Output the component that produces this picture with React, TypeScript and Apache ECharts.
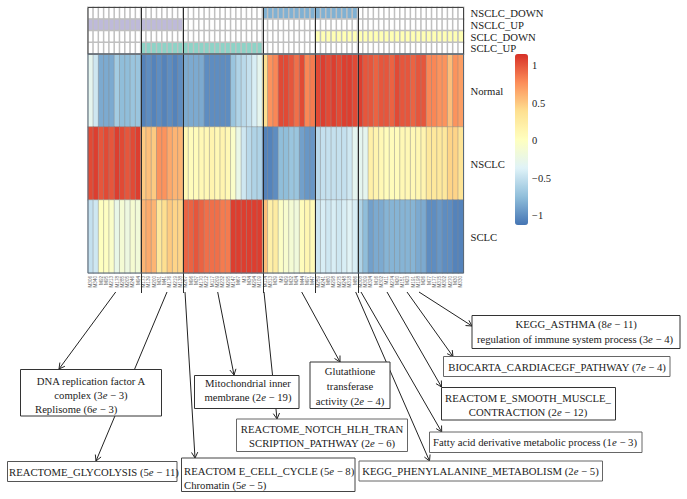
import React, { useEffect, useRef } from "react";
import * as echarts from "echarts";

const rowNames = ["Normal", "NSCLC", "SCLC"];
const annotNames = ["NSCLC_DOWN", "NSCLC_UP", "SCLC_DOWN", "SCLC_UP"];
const groupSizes = [10, 8, 15, 10, 8, 20];

const normal = [
  -0.3, -0.45, -0.85, -0.85, -0.85, -0.65, -0.75, -0.75, -0.7, -0.7,
  -1.05, -1.0, -1.05, -1.0, -1.05, -1.0, -1.05, -1.0,
  -0.85, -0.85, -0.85, -0.85, -1.0, -1.0, -1.0, -1.0, -1.0, -0.7, -0.6, -0.55, -0.5, -0.4, -0.3,
  0.4, 0.75, 0.8, 1.05, 1.05, 1.0, 0.9, 1.05, 0.8, 0.85,
  1.05, 1.1, 1.05, 1.1, 1.05, 1.1, 1.1, 1.05,
  1.1, 1.0, 1.0, 0.95, 1.0, 1.0, 0.95, 1.05, 1.0, 1.0, 0.95, 1.0, 1.0, 0.8, 0.8, 0.75, 0.75, 0.55, 0.75, 0.7,
];
const nsclc = [
  1.05, 1.1, 1.0, 1.05, 1.0, 1.1, 1.05, 1.0, 1.05, 1.1,
  0.5, 0.55, 0.5, 0.75, 0.75, 0.65, 0.6, 0.6,
  0.1, 0.05, 0.05, 0.1, 0.1, 0.15, 0.1, 0.15, 0.1, -0.05, -0.25, -0.45, -0.55, -0.6, -0.6,
  -1.05, -1.05, -1.0, -0.75, -0.75, -0.7, -0.7, -0.9, -0.95, -0.95,
  -0.55, -0.5, -0.5, -0.5, -0.5, -0.5, -0.45, -0.3,
  -0.3, -0.3, 0.2, 0.15, 0.1, 0.05, 0.05, 0.05, 0.1, 0.1, 0.1, 0.12, 0.15, 0.3, 0.3, 0.3, 0.3, 0.45, 0.45, 0.35,
];
const sclc = [
  -0.5, -0.45, 0.02, 0.0, -0.05, -0.25, -0.12, -0.2, -0.1, -0.15,
  0.6, 0.65, 0.6, 0.3, 0.4, 0.5, 0.45, 0.45,
  0.95, 0.95, 1.0, 0.95, 0.9, 0.9, 0.9, 0.85, 0.85, 1.1, 1.1, 1.1, 1.1, 1.1, 1.1,
  0.55, 0.2, 0.25, -0.02, -0.08, -0.12, -0.17, 0.05, 0.12, 0.08,
  -0.45, -0.4, -0.45, -0.4, -0.45, -0.4, -0.35, -0.4,
  -0.6, -0.75, -0.9, -0.85, -0.85, -0.8, -0.8, -0.8, -0.8, -0.8, -0.8, -0.85, -0.85, -1.0, -1.0, -0.95, -1.0, -1.0, -1.05, -1.05,
];
const rowValues = [normal, nsclc, sclc];

// For each annotation row: which gene groups are members (colour code 1..4).
const annotGroups = [
  { code: 1, groups: [3, 4] },
  { code: 2, groups: [0, 1] },
  { code: 3, groups: [4, 5] },
  { code: 4, groups: [1, 2] },
];
const annotColors = ["#ffffff", "#80B1D3", "#BEBADA", "#FFFFB3", "#8DD3C7"];

const colLabels = [
  "M306", "M340", "M92", "M95", "M213", "M178", "M285", "M205", "M246", "M94",
  "M173", "M139", "M200", "M31", "M41", "M176", "M219", "M138",
  "M267", "M96", "M37", "M170", "M212", "M117", "M209", "M232", "M295", "M147", "M67", "M3", "M34", "M294", "M109",
  "M114", "M313", "M39", "M9", "M29", "M32", "M24", "M44", "M97", "M47",
  "M259", "M241", "M80", "M298", "M275", "M248", "M318", "M86",
  "M308", "M309", "M324", "M16", "M302", "M11", "M274", "M20", "M151", "M23", "M191", "M198", "M26", "M77", "M177", "M315", "M302", "M270", "M30", "M330",
];

const colorTicks = [1, 0.5, 0, -0.5, -1];
const heatColors = ["#4575B4", "#91BFDB", "#E0F3F8", "#FFFFBF", "#FEE090", "#FC8D59", "#D73027"];

type Line = { t: string; x: number; y: number; align?: string };
type Box = { x0: number; y0: number; x1: number; y1: number; stroke: string; lines: Line[] };

const boxes: Box[] = [
  { x0: 20.5, y0: 369.5, x1: 161.5, y1: 416, stroke: "#333", lines: [
    { t: "DNA replication factor A", x: 91, y: 381 },
    { t: "complex (3e − 3)", x: 91, y: 395 },
    { t: "Replisome (6e − 3)", x: 35, y: 409, align: "left" },
  ] },
  { x0: 7.5, y0: 461.5, x1: 177, y1: 481.5, stroke: "#555", lines: [
    { t: "REACTOME_GLYCOLYSIS (5e − 11)", x: 9, y: 472, align: "left" },
  ] },
  { x0: 194.5, y0: 375.5, x1: 299, y1: 408.5, stroke: "#333", lines: [
    { t: "Mitochondrial inner", x: 248, y: 383 },
    { t: "membrane (2e − 19)", x: 248, y: 397 },
  ] },
  { x0: 310, y0: 362, x1: 390, y1: 408.5, stroke: "#333", lines: [
    { t: "Glutathione", x: 350, y: 371 },
    { t: "transferase", x: 350, y: 386 },
    { t: "activity (2e − 4)", x: 350, y: 401 },
  ] },
  { x0: 236.5, y0: 419, x1: 407.5, y1: 451.5, stroke: "#666", lines: [
    { t: "REACTOME_NOTCH_HLH_TRAN", x: 322, y: 429 },
    { t: "SCRIPTION_PATHWAY (2e − 6)", x: 322, y: 443 },
  ] },
  { x0: 181.5, y0: 458, x1: 355, y1: 491.5, stroke: "#444", lines: [
    { t: "REACTOM E_CELL_CYCLE (5e − 8)", x: 184, y: 471, align: "left" },
    { t: "Chromatin (5e − 5)", x: 184, y: 485, align: "left" },
  ] },
  { x0: 472, y0: 315.5, x1: 680, y1: 348.5, stroke: "#333", lines: [
    { t: "KEGG_ASTHMA (8e − 11)", x: 576, y: 324 },
    { t: "regulation of immune system process (3e − 4)", x: 575, y: 339 },
  ] },
  { x0: 443.5, y0: 356.5, x1: 670, y1: 376.5, stroke: "#666", lines: [
    { t: "BIOCARTA_CARDIACEGF_PATHWAY (7e − 4)", x: 557, y: 367 },
  ] },
  { x0: 441.5, y0: 387.5, x1: 615.5, y1: 420, stroke: "#333", lines: [
    { t: "REACTOM E_SMOOTH_MUSCLE_", x: 528, y: 398 },
    { t: "CONTRACTION (2e − 12)", x: 528, y: 412 },
  ] },
  { x0: 429.5, y0: 432, x1: 642, y1: 452.5, stroke: "#666", lines: [
    { t: "Fatty acid derivative metabolic process (1e − 3)", x: 535, y: 442 },
  ] },
  { x0: 359, y0: 461, x1: 602.5, y1: 481, stroke: "#666", lines: [
    { t: "KEGG_PHENYLALANINE_METABOLISM (2e − 5)", x: 480.5, y: 471 },
  ] },
];

const arrows: number[][] = [
  [115.7, 292, 59, 369],
  [167, 292, 96, 461],
  [185, 292, 195, 458],
  [217.7, 292, 234, 375],
  [264, 292, 277, 419],
  [301.7, 292, 340, 362],
  [355.7, 292, 429.5, 461],
  [361, 292, 441.7, 432],
  [387, 292, 441.5, 387],
  [407, 292, 453, 356.5],
  [419, 292, 472, 326],
];

const SERIF = "'Liberation Serif', serif";
const FS = 10.7;
const GRID_L = 88;
const GRID_R = 463.5;
const TOP = 7.5;
const MID = 54;
const BOTTOM = 273;
const BAR_T = 54;
const BAR_B = 225;
const VMAX = 1.157;
const VMIN = -1.123;

function richText(t: string) {
  return t.replace(/\((\d)e − (\d+)\)/g, "{n|($1}{i|e}{n| − $2)}");
}

function buildGraphic() {
  const els: any[] = [];
  const cell = (GRID_R - GRID_L) / 71;
  let acc = 0;
  groupSizes.slice(0, -1).forEach((n) => {
    acc += n;
    const x = Math.round(GRID_L + acc * cell) + 0.5;
    els.push({ type: "line", z: 50, shape: { x1: x, y1: TOP, x2: x, y2: 293 }, style: { stroke: "#2a2a2a", lineWidth: 1 } });
  });
  els.push({ type: "rect", z: 51, shape: { x: GRID_L, y: TOP, width: GRID_R - GRID_L, height: MID - TOP }, style: { fill: "none", stroke: "#444", lineWidth: 1 } });
  els.push({ type: "rect", z: 51, shape: { x: GRID_L, y: MID, width: GRID_R - GRID_L, height: BOTTOM - MID }, style: { fill: "none", stroke: "#5a6a7a", lineWidth: 1 } });

  arrows.forEach(([x1, y1, x2, y2]) => {
    els.push({ type: "line", z: 60, shape: { x1, y1, x2, y2 }, style: { stroke: "#222", lineWidth: 1 } });
    const a = Math.atan2(y2 - y1, x2 - x1);
    const h = 6.5;
    const p = (d: number) => [x2 - h * Math.cos(a + d), y2 - h * Math.sin(a + d)];
    els.push({ type: "polyline", z: 60, shape: { points: [p(0.5), [x2, y2], p(-0.5)] }, style: { stroke: "#222", lineWidth: 1, fill: "none" } });
  });

  boxes.forEach((b) => {
    els.push({ type: "rect", z: 70, shape: { x: b.x0, y: b.y0, width: b.x1 - b.x0, height: b.y1 - b.y0 }, style: { fill: "#fff", stroke: b.stroke, lineWidth: 1 } });
    b.lines.forEach((l) => {
      els.push({
        type: "text", z: 71, x: l.x, y: l.y,
        style: {
          text: richText(l.t),
          align: l.align || "center",
          verticalAlign: "middle",
          fontFamily: SERIF, fontSize: FS, fill: "#222",
          rich: {
            n: { fontFamily: SERIF, fontSize: FS, fill: "#222" },
            i: { fontFamily: SERIF, fontSize: FS, fontStyle: "italic", fill: "#222" },
          },
        },
      });
    });
  });

  colorTicks.forEach((v) => {
    const y = BAR_T + ((VMAX - v) / (VMAX - VMIN)) * (BAR_B - BAR_T);
    els.push({
      type: "text", z: 71, x: 532, y,
      style: { text: v < 0 ? "−" + Math.abs(v) : String(v), align: "left", verticalAlign: "middle", fontFamily: SERIF, fontSize: 10.5, fill: "#222" },
    });
  });
  return els;
}

export default function App() {
  const ref = useRef<HTMLDivElement>(null);
  useEffect(() => {
    const chart = echarts.init(ref.current!, undefined, { renderer: "svg" });
    const mainData: number[][] = [];
    rowValues.forEach((vals, r) => vals.forEach((v, c) => mainData.push([c, r, v])));
    const annotData: number[][] = [];
    annotGroups.forEach((a, r) => {
      let c = 0;
      groupSizes.forEach((n, g) => {
        for (let i = 0; i < n; i++, c++) annotData.push([c, r, a.groups.includes(g) ? a.code : 0]);
      });
    });
    const gridPos = (top: number, bottom: number) => ({ left: GRID_L, width: GRID_R - GRID_L, top, height: bottom - top });
    const yLabel = { fontFamily: SERIF, fontSize: FS, color: "#222", margin: 7, interval: 0 };
    chart.setOption({
      animation: false,
      backgroundColor: "#fff",
      grid: [gridPos(MID, BOTTOM), gridPos(TOP, MID)],
      xAxis: [
        {
          type: "category", gridIndex: 0, data: colLabels, position: "bottom",
          axisLine: { show: false }, axisTick: { show: false }, splitLine: { show: false },
          axisLabel: { interval: 0, rotate: 90, fontSize: 4.6, color: "#666", margin: 3, fontFamily: "'Liberation Sans', sans-serif" },
        },
        {
          type: "category", gridIndex: 1, data: colLabels, show: false,
        },
      ],
      yAxis: [
        {
          type: "category", gridIndex: 0, data: rowNames, inverse: true, position: "right",
          axisLine: { show: false }, axisTick: { show: false }, splitLine: { show: false }, axisLabel: yLabel,
        },
        {
          type: "category", gridIndex: 1, data: annotNames, inverse: true, position: "right",
          axisLine: { show: false }, axisTick: { show: false }, splitLine: { show: false }, axisLabel: yLabel,
        },
      ],
      visualMap: [
        {
          type: "continuous", seriesIndex: 0, min: VMIN, max: VMAX, calculable: false, hoverLink: false,
          left: 515, top: BAR_T, itemWidth: 13, itemHeight: BAR_B - BAR_T, text: ["", ""], textGap: 0,
          showLabel: false, inRange: { color: heatColors }, padding: 0, borderWidth: 0,
        },
        {
          type: "piecewise", seriesIndex: 1, show: false,
          pieces: annotColors.map((color, i) => ({ value: i, color })),
        },
      ],
      series: [
        {
          type: "heatmap", xAxisIndex: 0, yAxisIndex: 0, data: mainData,
          itemStyle: { borderColor: "rgba(140,140,140,0.45)", borderWidth: 1 },
          emphasis: { disabled: true },
        },
        {
          type: "heatmap", xAxisIndex: 1, yAxisIndex: 1, data: annotData,
          itemStyle: { borderColor: "#c0c0c0", borderWidth: 1.5 },
          emphasis: { disabled: true },
        },
      ],
      graphic: buildGraphic(),
    });
    return () => chart.dispose();
  }, []);
  return <div ref={ref} style={{ position: "fixed", left: 0, top: 0, width: 687, height: 499 }} />;
}
